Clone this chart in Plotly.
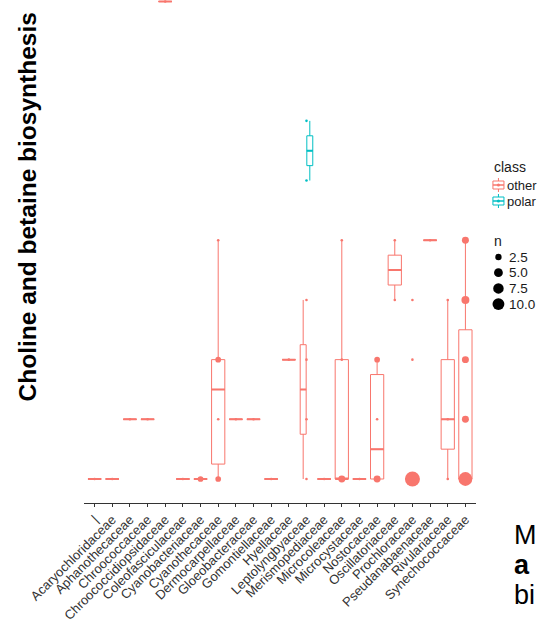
import numpy as np
import plotly.graph_objects as go

# Families shown on the x axis, in axis order
families = [
    "|", "Acaryochloridaceae", "Aphanothecaceae", "Chroococcaceae",
    "Chroococcidiopsidaceae", "Coleofasciculaceae", "Cyanobacteriaceae",
    "Cyanothecaceae", "Dermocarpellaceae", "Gloeobacteraceae",
    "Gomontiellaceae", "Hyellaceae", "Leptolyngbyaceae", "Merismopediaceae",
    "Microcoleaceae", "Microcystaceae", "Nostocaceae", "Oscillatoriaceae",
    "Prochloraceae", "Pseudanabaenaceae", "Rivulariaceae", "Synechococcaceae",
]

# One row per distinct gene count seen in a family/class group; n = number of genomes
obs_family = [
    "|", "Acaryochloridaceae", "Aphanothecaceae", "Chroococcaceae",
    "Chroococcidiopsidaceae", "Coleofasciculaceae", "Cyanobacteriaceae",
    "Cyanothecaceae", "Cyanothecaceae", "Cyanothecaceae", "Cyanothecaceae",
    "Dermocarpellaceae", "Gloeobacteraceae", "Gomontiellaceae", "Hyellaceae",
    "Leptolyngbyaceae", "Leptolyngbyaceae", "Leptolyngbyaceae", "Leptolyngbyaceae",
    "Leptolyngbyaceae", "Leptolyngbyaceae",
    "Merismopediaceae",
    "Microcoleaceae", "Microcoleaceae", "Microcoleaceae",
    "Microcystaceae",
    "Nostocaceae", "Nostocaceae", "Nostocaceae",
    "Oscillatoriaceae", "Oscillatoriaceae",
    "Prochloraceae", "Prochloraceae", "Prochloraceae",
    "Pseudanabaenaceae",
    "Rivulariaceae", "Rivulariaceae", "Rivulariaceae",
    "Synechococcaceae", "Synechococcaceae", "Synechococcaceae",
    "Synechococcaceae", "Synechococcaceae",
]
obs_class = [
    "other", "other", "other", "other",
    "other", "other", "other",
    "other", "other", "other", "other",
    "other", "other", "other", "other",
    "other", "other", "other", "other",
    "polar", "polar",
    "other",
    "other", "other", "other",
    "other",
    "other", "other", "other",
    "other", "other",
    "other", "other", "other",
    "other",
    "other", "other", "other",
    "other", "other", "other", "other", "other",
]
obs_value = [
    0, 0, 1, 1,
    8, 0, 0,
    0, 1, 2, 4,
    1, 1, 0, 2,
    0, 1, 2, 3,
    5, 6,
    0,
    0, 2, 4,
    0,
    0, 1, 2,
    3, 4,
    0, 2, 3,
    4,
    0, 1, 3,
    0, 1, 2, 3, 4,
]
obs_n = [
    1, 1, 1, 1,
    1, 1, 2,
    2, 1, 2, 1,
    1, 1, 1, 1,
    1, 1, 1, 1,
    1, 1,
    1,
    3, 1, 1,
    1,
    3, 1, 2,
    1, 1,
    17, 1, 1,
    1,
    1, 1, 1,
    14, 3, 3, 4, 3,
]

classes = ["other", "polar"]
class_colors = {"other": "#F8766D", "polar": "#00BFC4"}
size_breaks = [2.5, 5.0, 7.5, 10.0]
size_labels = ["2.5", "5.0", "7.5", "10.0"]

y_title = "Choline and betaine biosynthesis"

# ---------------------------------------------------------------- helpers
N_MIN, N_MAX = 1, max(obs_n)
D_MIN, D_MAX = 2.6, 15.0


def point_diameter(n):
    """Area-style size scale: diameter grows with sqrt of n."""
    frac = (np.asarray(n, float) - N_MIN) / (N_MAX - N_MIN)
    return D_MIN + (D_MAX - D_MIN) * np.sqrt(np.clip(frac, 0, None))


def box_stats(vals):
    q1, med, q3 = np.percentile(vals, [25, 50, 75])
    iqr = q3 - q1
    lo = vals[vals >= q1 - 1.5 * iqr].min()
    hi = vals[vals <= q3 + 1.5 * iqr].max()
    return q1, med, q3, lo, hi


fam_index = {f: i for i, f in enumerate(families)}
fam = np.array(obs_family)
cls = np.array(obs_class)
val = np.array(obs_value, float)
cnt = np.array(obs_n, int)

BOX_W = 0.75
fig = go.Figure()

# boxes, dodged when a family holds both classes
groups = {}
for f in families:
    present = [c for c in classes if np.any((fam == f) & (cls == c))]
    k = len(present)
    for j, c in enumerate(present):
        m = (fam == f) & (cls == c)
        vals = np.repeat(val[m], cnt[m])
        if k == 1:
            off, w = 0.0, BOX_W
        else:
            off = -BOX_W / 2 + BOX_W / k * (j + 0.5)
            w = BOX_W / k * 0.9
        g = groups.setdefault((c, w), {"x": [], "q1": [], "med": [], "q3": [], "lo": [], "hi": []})
        q1, med, q3, lo, hi = box_stats(vals)
        g["x"].append(fam_index[f] + off)
        g["q1"].append(q1)
        g["med"].append(med)
        g["q3"].append(q3)
        g["lo"].append(lo)
        g["hi"].append(hi)

for (c, w), g in groups.items():
    fig.add_trace(go.Box(
        x=g["x"], q1=g["q1"], median=g["med"], q3=g["q3"],
        lowerfence=g["lo"], upperfence=g["hi"],
        width=w, boxpoints=False, whiskerwidth=0,
        fillcolor="white", line=dict(color=class_colors[c], width=1),
        showlegend=False, hoverinfo="skip",
    ))
    # heavier median bar
    fig.add_trace(go.Box(
        x=g["x"], q1=g["med"], median=g["med"], q3=g["med"],
        lowerfence=g["med"], upperfence=g["med"],
        width=w, boxpoints=False, whiskerwidth=0,
        fillcolor="rgba(0,0,0,0)", line=dict(color=class_colors[c], width=2),
        showlegend=False, hoverinfo="skip",
    ))

# points sized by number of genomes, at the family centre
for c in classes:
    m = cls == c
    fig.add_trace(go.Scatter(
        x=[fam_index[f] for f in fam[m]], y=val[m], mode="markers",
        marker=dict(size=point_diameter(cnt[m]), color=class_colors[c],
                    line=dict(width=0), opacity=1),
        showlegend=False, hoverinfo="skip",
    ))

# ---------------------------------------------------------------- layout
W, H = 538, 623
L, R, T, B = 84.4, 62.4, 0, 120
PW, PH = W - L - R, H - T - B


def px(x):
    return (x - L) / PW


def py(y):
    return (T + PH - y) / PH


shapes = []
annotations = []
FONT = "Liberation Sans, Arial"

# y axis title
annotations.append(dict(
    text=f"<b>{y_title}</b>", textangle=-90, x=px(28), y=py(207),
    xref="paper", yref="paper", xanchor="center", yanchor="middle", showarrow=False,
    font=dict(family=FONT, size=24.5, color="black"),
))

# legend: class
LEG_X = 492
annotations.append(dict(text="class", x=px(LEG_X), y=py(167), xref="paper", yref="paper",
                        xanchor="left", yanchor="middle", showarrow=False,
                        font=dict(family=FONT, size=14, color="#1a1a1a")))
for i, c in enumerate(classes):
    yc = 185 + 16 * i
    col = class_colors[c]
    cx = LEG_X + 6
    shapes += [
        dict(type="line", xref="paper", yref="paper", x0=px(cx), x1=px(cx), y0=py(yc - 7), y1=py(yc + 7),
             line=dict(color=col, width=1)),
        dict(type="rect", xref="paper", yref="paper", x0=px(cx - 5.5), x1=px(cx + 5.5),
             y0=py(yc - 4), y1=py(yc + 4), fillcolor="white", line=dict(color=col, width=1)),
        dict(type="line", xref="paper", yref="paper", x0=px(cx - 5.5), x1=px(cx + 5.5), y0=py(yc), y1=py(yc),
             line=dict(color=col, width=1.5)),
        dict(type="circle", xref="paper", yref="paper", xsizemode="pixel", ysizemode="pixel",
             xanchor=px(cx), yanchor=py(yc), x0=-1.5, x1=1.5, y0=-1.5, y1=1.5,
             fillcolor=col, line=dict(width=0)),
    ]
    annotations.append(dict(text=c, x=px(LEG_X + 13), y=py(yc), xref="paper", yref="paper",
                            xanchor="left", yanchor="middle", showarrow=False,
                            font=dict(family=FONT, size=13, color="#1a1a1a")))

# legend: n
annotations.append(dict(text="n", x=px(LEG_X), y=py(241), xref="paper", yref="paper",
                        xanchor="left", yanchor="middle", showarrow=False,
                        font=dict(family=FONT, size=14, color="#1a1a1a")))
for i, (b, lab) in enumerate(zip(size_breaks, size_labels)):
    yc = 257 + 15.7 * i
    r = float(point_diameter(b)) / 2
    cx = LEG_X + 6
    shapes.append(dict(type="circle", xref="paper", yref="paper", xsizemode="pixel", ysizemode="pixel",
                       xanchor=px(cx), yanchor=py(yc), x0=-r, x1=r, y0=-r, y1=r,
                       fillcolor="black", line=dict(width=0)))
    annotations.append(dict(text=lab, x=px(LEG_X + 15), y=py(yc), xref="paper", yref="paper",
                            xanchor="left", yanchor="middle", showarrow=False,
                            font=dict(family=FONT, size=13.5, color="#1a1a1a")))

# surrounding body text at the lower right
for txt, yc in [("M", 535), ("<b>a</b>", 565), ("bi", 595)]:
    annotations.append(dict(text=txt, x=px(512), y=py(yc), xref="paper", yref="paper",
                            xanchor="left", yanchor="middle", showarrow=False,
                            font=dict(family=FONT, size=27, color="black")))

fig.update_layout(
    width=W, height=H,
    margin=dict(l=L, r=R, t=T, b=B, pad=0),
    paper_bgcolor="white", plot_bgcolor="white",
    showlegend=False,
    shapes=shapes, annotations=annotations,
    xaxis=dict(
        range=[-0.6, len(families) - 0.4],
        tickmode="array", tickvals=list(range(len(families))), ticktext=families,
        tickangle=-45, showgrid=False, zeroline=False,
        showline=True, linecolor="#333333", linewidth=1,
        ticks="outside", ticklen=3, tickcolor="#333333", tickwidth=1,
        tickfont=dict(family=FONT, size=13, color="#333333"),
    ),
    yaxis=dict(range=[-0.402, 8.025], visible=False),
)

fig.write_html("out.html")
